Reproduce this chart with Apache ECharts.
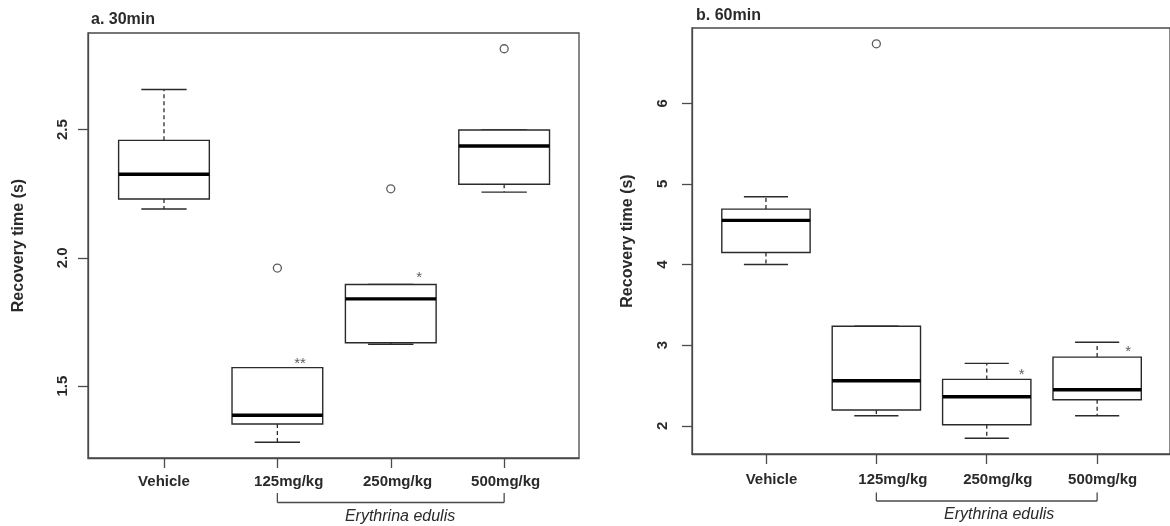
<!DOCTYPE html>
<html lang="en">
<head>
    <meta http-equiv="Content-Type" content="text/html; charset=UTF-8">
    <title>Recovery time</title>
    <script type="text/javascript" src="https://cdn.jsdelivr.net/npm/echarts@6/dist/echarts.min.js"></script>
</head>
<body style="margin:0;background:#fff">
<div id="main" style="width:1170px;height:526px"></div>
<script type="text/javascript">
    // group names on the x axis
    var groups = ['Vehicle', '125mg/kg', '250mg/kg', '500mg/kg'];

    // boxes: [group, lower whisker, Q1, median, Q3, upper whisker]
    var box30 = [
        [1, 2.190, 2.229, 2.326, 2.458, 2.656],
        [2, 1.281, 1.352, 1.386, 1.572, 1.572],
        [3, 1.663, 1.669, 1.840, 1.896, 1.896],
        [4, 2.256, 2.287, 2.436, 2.498, 2.498]
    ];
    var box60 = [
        [1, 4.000, 4.149, 4.547, 4.687, 4.840],
        [2, 2.124, 2.195, 2.559, 3.234, 3.234],
        [3, 1.846, 2.012, 2.360, 2.575, 2.774],
        [4, 2.124, 2.323, 2.447, 2.852, 3.035]
    ];

    // outliers: [group, value]
    var out30 = [[2, 1.960], [3, 2.269], [4, 2.815]];
    var out60 = [[2, 6.737]];

    // significance marks: [x, y, mark]
    var sig30 = [[2.20, 1.602, '**'], [3.25, 1.939, '*']];
    var sig60 = [[3.316, 2.675, '*'], [4.28, 2.969, '*']];

    // y tick labels
    var yTicks30 = [1.5, 2.0, 2.5];
    var yTicks60 = [2, 3, 4, 5, 6];

    // bracket under the extract doses: [from group, to group]
    var bracket = [[2, 4]];

    // small nudges of the x labels (in group units), as in the figure
    var labelShift30 = [0, 0.10, 0.06, 0.013];
    var labelShift60 = [0.05, 0.15, 0.10, 0.05];

    var FONT = "'Liberation Sans', Arial, sans-serif";
    var INK = '#2a2a2a';
    var AXIS = '#4a4a4a';

    var myChart = echarts.init(document.getElementById('main'), null, {renderer: 'canvas'});

    function renderBox(params, api) {
        var x = api.value(0);
        var lo = api.coord([x, api.value(1)]);
        var q1 = api.coord([x, api.value(2)]);
        var md = api.coord([x, api.value(3)]);
        var q3 = api.coord([x, api.value(4)]);
        var hi = api.coord([x, api.value(5)]);
        var half = api.size([0.4, 0])[0];
        var cap = api.size([0.2, 0])[0];
        var cx = lo[0];
        var solid = {stroke: INK, lineWidth: 1.4, fill: null};
        var dash = {stroke: INK, lineWidth: 1.3, lineDash: [4, 3], fill: null};
        return {
            type: 'group',
            children: [
                {type: 'line', shape: {x1: cx, y1: q3[1], x2: cx, y2: hi[1]}, style: dash},
                {type: 'line', shape: {x1: cx, y1: q1[1], x2: cx, y2: lo[1]}, style: dash},
                {type: 'line', shape: {x1: cx - cap, y1: hi[1], x2: cx + cap, y2: hi[1]}, style: solid},
                {type: 'line', shape: {x1: cx - cap, y1: lo[1], x2: cx + cap, y2: lo[1]}, style: solid},
                {type: 'rect', shape: {x: cx - half, y: q3[1], width: half * 2, height: q1[1] - q3[1]},
                    style: {stroke: INK, lineWidth: 1.4, fill: '#fff'}},
                {type: 'line', shape: {x1: cx - half, y1: md[1], x2: cx + half, y2: md[1]},
                    style: {stroke: '#000', lineWidth: 3.4}}
            ]
        };
    }

    function makeBracket(topGap, botGap, textGap, textShift) {
        return function (params, api) {
            var cs = params.coordSys;
            var base = cs.y + cs.height;
            var a = api.coord([api.value(0), 0])[0];
            var b = api.coord([api.value(1), 0])[0];
            var mid = api.coord([(api.value(0) + api.value(1)) / 2 + textShift, 0])[0];
            var st = {stroke: AXIS, lineWidth: 1.3};
            return {
                type: 'group',
                children: [
                    {type: 'line', shape: {x1: a, y1: base + topGap, x2: a, y2: base + botGap}, style: st},
                    {type: 'line', shape: {x1: b, y1: base + topGap, x2: b, y2: base + botGap}, style: st},
                    {type: 'line', shape: {x1: a, y1: base + botGap, x2: b, y2: base + botGap}, style: st},
                    {type: 'text', style: {
                        text: 'Erythrina edulis', x: mid, y: base + textGap,
                        align: 'center', verticalAlign: 'middle',
                        fontStyle: 'italic', fontSize: 16, fontFamily: FONT, fill: INK
                    }}
                ]
            };
        };
    }

    function xAxisFor(gridIndex, shifts, margin) {
        return {
            type: 'value', gridIndex: gridIndex, min: 0.33, max: 4.66,
            axisLine: {show: true, onZero: false, lineStyle: {color: AXIS, width: 1.3}},
            axisTick: {show: true, length: 10, customValues: [1, 2, 3, 4],
                lineStyle: {color: AXIS, width: 1.3}},
            axisLabel: {
                customValues: shifts.map(function (s, i) { return i + 1 + s; }),
                formatter: function (v) { return groups[Math.round(v) - 1]; },
                margin: margin, color: INK, fontSize: 15, fontWeight: 'bold', fontFamily: FONT
            },
            splitLine: {show: false}
        };
    }

    function yAxisFor(gridIndex, min, max, ticks, digits, margin, gap) {
        return {
            type: 'value', gridIndex: gridIndex, min: min, max: max,
            name: 'Recovery time (s)', nameLocation: 'middle', nameGap: gap,
            nameTextStyle: {color: INK, fontSize: 16, fontWeight: 'bold', fontFamily: FONT},
            axisLine: {show: true, lineStyle: {color: AXIS, width: 1.3}},
            axisTick: {show: true, length: 10, customValues: ticks,
                lineStyle: {color: AXIS, width: 1.3}},
            axisLabel: {
                customValues: ticks, rotate: 90, margin: margin,
                formatter: function (v) { return v.toFixed(digits); },
                color: INK, fontSize: 15, fontWeight: 'bold', fontFamily: FONT
            },
            splitLine: {show: false}
        };
    }

    function sigSeries(idx, data) {
        return {
            type: 'scatter', xAxisIndex: idx, yAxisIndex: idx,
            symbolSize: 1, itemStyle: {color: 'transparent'},
            data: data.map(function (d) { return {value: [d[0], d[1]], name: d[2]}; }),
            label: {show: true, position: 'inside', offset: [0, 4],
                formatter: function (p) { return p.name; },
                color: '#333', fontSize: 15, fontFamily: FONT},
            silent: true, z: 5
        };
    }

    function outSeries(idx, data) {
        return {
            type: 'scatter', xAxisIndex: idx, yAxisIndex: idx,
            symbol: 'circle', symbolSize: 8,
            itemStyle: {color: '#fff', borderColor: '#333', borderWidth: 1.3},
            data: data, silent: true, z: 5
        };
    }

    myChart.setOption({
        backgroundColor: '#fff',
        animation: false,
        title: [
            {text: 'a. 30min', left: 91, top: 12, padding: 0,
                textStyle: {color: INK, fontSize: 16, fontWeight: 'bold', fontFamily: FONT}},
            {text: 'b. 60min', left: 696, top: 8, padding: 0,
                textStyle: {color: INK, fontSize: 16, fontWeight: 'bold', fontFamily: FONT}}
        ],
        grid: [
            {left: 88, top: 33, width: 491, height: 425, show: true,
                borderColor: AXIS, borderWidth: 1.3, backgroundColor: 'transparent'},
            {left: 692, top: 28, width: 490, height: 426, show: true,
                borderColor: AXIS, borderWidth: 1.3, backgroundColor: 'transparent'}
        ],
        xAxis: [
            xAxisFor(0, labelShift30, 16),
            xAxisFor(1, labelShift60, 18.5)
        ],
        yAxis: [
            yAxisFor(0, 1.2196, 2.8764, yTicks30, 1, 17.5, 61),
            yAxisFor(1, 1.650, 6.933, yTicks60, 0, 21.5, 56)
        ],
        series: [
            {type: 'custom', xAxisIndex: 0, yAxisIndex: 0, renderItem: renderBox, data: box30, silent: true},
            {type: 'custom', xAxisIndex: 1, yAxisIndex: 1, renderItem: renderBox, data: box60, silent: true},
            outSeries(0, out30),
            outSeries(1, out60),
            sigSeries(0, sig30),
            sigSeries(1, sig60),
            {type: 'custom', xAxisIndex: 0, yAxisIndex: 0, clip: false,
                renderItem: makeBracket(35, 44.5, 58.5, 0.082), data: bracket, silent: true},
            {type: 'custom', xAxisIndex: 1, yAxisIndex: 1, clip: false,
                renderItem: makeBracket(38.5, 47, 61, 0.112), data: bracket, silent: true}
        ]
    });
</script>
</body>
</html>
